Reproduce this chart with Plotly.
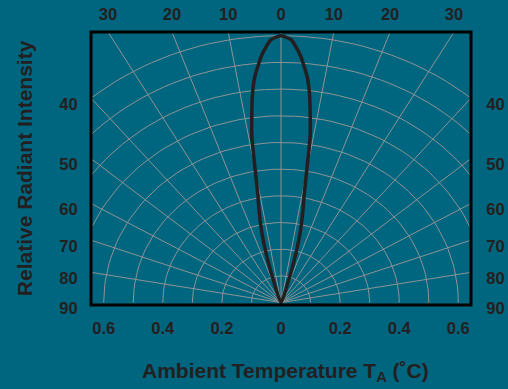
import math
import plotly.graph_objects as go

# ---------------- data ----------------
# radiation pattern (one half, symmetric): angle (deg) vs relative intensity
LOBE_ANGLES = [0, 2, 4, 6, 7, 8, 9, 10, 11, 12, 14, 16, 18, 20]
LOBE_INTENSITY = [1.0, 0.985, 0.93, 0.85, 0.79, 0.71, 0.63, 0.50, 0.41, 0.36, 0.265, 0.15, 0.06, 0.0]

GRID_RADII = [0.1, 0.2, 0.3, 0.4, 0.5, 0.6, 0.7, 0.8, 0.9, 1.0]
RADIAL_ANGLES = [-80, -70, -60, -50, -40, -30, -20, -10, 0, 10, 20, 30, 40, 50, 60, 70, 80]

BOTTOM_TICKS = [-0.6, -0.4, -0.2, 0, 0.2, 0.4, 0.6]
BOTTOM_LABELS = ["0.6", "0.4", "0.2", "0", "0.2", "0.4", "0.6"]
TOP_ANGLES = [-30, -20, -10, 0, 10, 20, 30]
TOP_LABELS = ["30", "20", "10", "0", "10", "20", "30"]
SIDE_ANGLES = [40, 50, 60, 70, 80, 90]
SIDE_LABELS = ["40", "50", "60", "70", "80", "90"]

X_TITLE = "Ambient Temperature T<sub>A</sub> (˚C)"
Y_TITLE = "Relative Radiant Intensity"

# ---------------- styling ----------------
BG = "#00657f"
INK = "#231f20"
GRID = "#8e9495"
FONT = "Liberation Sans, Arial, Helvetica, sans-serif"

X_MAX = 0.643
Y_MIN, Y_MAX = -0.009, 1.014


def polar_xy(r, deg):
    t = math.radians(deg)
    return r * math.sin(t), r * math.cos(t)


fig = go.Figure()

# circular grid (upper half)
gx, gy = [], []
for r in GRID_RADII:
    for a in range(-90, 91, 2):
        x, y = polar_xy(r, a)
        gx.append(x)
        gy.append(y)
    gx.append(None)
    gy.append(None)
# radial grid lines
for a in RADIAL_ANGLES:
    x, y = polar_xy(3.0, a)
    gx += [0, x, None]
    gy += [0, y, None]
fig.add_trace(go.Scatter(x=gx, y=gy, mode="lines",
                         line=dict(color=GRID, width=1),
                         hoverinfo="skip", showlegend=False))

# lobe
angs = [-a for a in LOBE_ANGLES[::-1]] + LOBE_ANGLES[1:]
ints = LOBE_INTENSITY[::-1] + LOBE_INTENSITY[1:]
lx, ly = [], []
for a, r in zip(angs, ints):
    x, y = polar_xy(r, a)
    lx.append(x)
    ly.append(y)
fig.add_trace(go.Scatter(x=lx, y=ly, mode="lines",
                         line=dict(color=INK, width=3.5, shape="spline", smoothing=0.6),
                         hoverinfo="skip", showlegend=False))

# invisible traces to activate top / right axes
fig.add_trace(go.Scatter(x=[None], y=[None], xaxis="x2", yaxis="y",
                         showlegend=False, hoverinfo="skip"))
fig.add_trace(go.Scatter(x=[None], y=[None], xaxis="x", yaxis="y2",
                         showlegend=False, hoverinfo="skip"))

tickfont = dict(family=FONT, size=16.5, color=INK, weight="bold")
top_vals = [Y_MAX * math.tan(math.radians(a)) for a in TOP_ANGLES]
side_vals = [0 if a == 90 else X_MAX / math.tan(math.radians(a)) for a in SIDE_ANGLES]

common = dict(showgrid=False, zeroline=False, showline=False, fixedrange=True,
              automargin=False,
              ticks="outside", tickcolor="rgba(0,0,0,0)", tickfont=tickfont)

fig.update_layout(
    width=508, height=389,
    margin=dict(l=91, r=37, t=32, b=84, autoexpand=False),
    paper_bgcolor=BG, plot_bgcolor=BG,
    xaxis=dict(range=[-X_MAX, X_MAX], tickvals=BOTTOM_TICKS, ticktext=BOTTOM_LABELS,
               ticklen=8, **common),
    xaxis2=dict(range=[-X_MAX, X_MAX], overlaying="x", side="top", anchor="y",
                tickvals=top_vals, ticktext=TOP_LABELS, ticklen=4, **common),
    yaxis=dict(range=[Y_MIN, Y_MAX], tickvals=side_vals, ticktext=SIDE_LABELS,
               ticklen=9, ticklabelshift=6, **common),
    yaxis2=dict(range=[Y_MIN, Y_MAX], overlaying="y", side="right", anchor="x",
                tickvals=side_vals, ticktext=SIDE_LABELS, ticklen=11,
                ticklabelshift=6, **common),
    shapes=[dict(type="rect", xref="paper", yref="paper", x0=0, x1=1, y0=0, y1=1,
                 line=dict(color="black", width=3), layer="above")],
    annotations=[
        dict(text=X_TITLE, xref="paper", yref="paper", x=0.511, y=-0.245,
             xanchor="center", yanchor="middle", showarrow=False,
             font=dict(family=FONT, size=21, color=INK, weight="bold")),
        dict(text=Y_TITLE, xref="paper", yref="paper", x=-0.1745, y=0.5,
             xanchor="center", yanchor="middle", showarrow=False, textangle=-90,
             font=dict(family=FONT, size=21, color=INK, weight="bold")),
    ],
    showlegend=False,
)

fig.write_html("out.html", config={"displayModeBar": False},
               post_script="document.body.style.margin='0';document.body.style.overflow='hidden';")
